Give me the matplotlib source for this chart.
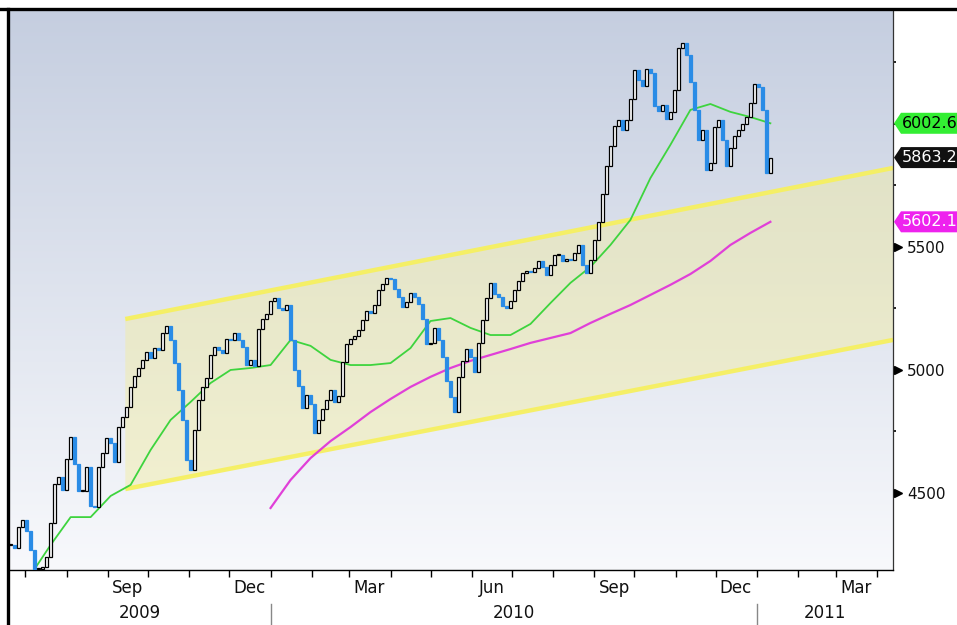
import matplotlib
matplotlib.use('Agg')
import matplotlib.pyplot as plt
import matplotlib.dates as mdates
from matplotlib.patches import Polygon
from matplotlib.lines import Line2D
import numpy as np
import pandas as pd

# ---------------- data ----------------
start_date = '2009-06-20'   # first sample, every 3 calendar days
close = [
    4289, 4276, 4362, 4390, 4346, 4268, 4191, 4191, 4199, 4240,
    4378, 4537, 4565, 4512, 4638, 4728, 4618, 4508, 4508, 4606,
    4447, 4443, 4606, 4663, 4724, 4703, 4626, 4768, 4809, 4850,
    4931, 4976, 5008, 5041, 5073, 5049, 5089, 5081, 5150, 5179,
    5122, 5028, 4919, 4797, 4634, 4593, 4756, 4878, 4931, 4967,
    5061, 5093, 5081, 5069, 5126, 5122, 5150, 5122, 5093, 5020,
    5041, 5016, 5167, 5207, 5228, 5280, 5293, 5252, 5244, 5264,
    5122, 5000, 4935, 4846, 4898, 4862, 4744, 4797, 4841, 4878,
    4919, 4870, 4894, 5033, 5106, 5126, 5138, 5163, 5203, 5240,
    5232, 5264, 5325, 5350, 5374, 5370, 5329, 5297, 5256, 5276,
    5313, 5297, 5268, 5207, 5106, 5110, 5171, 5122, 5053, 4955,
    4890, 4829, 4972, 5037, 5085, 5053, 4992, 5110, 5203, 5293,
    5354, 5309, 5297, 5260, 5252, 5280, 5325, 5362, 5394, 5402,
    5398, 5415, 5443, 5419, 5386, 5427, 5467, 5467, 5443, 5451,
    5447, 5476, 5508, 5427, 5394, 5447, 5528, 5602, 5715, 5829,
    5911, 5992, 6016, 5976, 6016, 6102, 6220, 6179, 6154, 6224,
    6207, 6073, 6053, 6077, 6020, 6049, 6138, 6309, 6329, 6280,
    6171, 6057, 5935, 5976, 5813, 5841, 5988, 6016, 5935, 5829,
    5902, 5951, 5976, 6000, 6028, 6085, 6163, 6150, 6057, 5801,
    5863.2,
]
# 50-day average (green), sampled every 15 days from the 6th sample
ma50 = [
    4167, 4289, 4402, 4402, 4488, 4533, 4675, 4797, 4870, 4947,
    5000, 5008, 5020, 5122, 5098, 5041, 5020, 5020, 5028, 5089,
    5199, 5211, 5171, 5142, 5142, 5187, 5272, 5354, 5419, 5508,
    5610, 5780, 5915, 6057, 6081, 6049, 6028, 6002.6,
]
# 200-day average (magenta), sampled every 15 days from the 66th sample
ma200 = [
    4439, 4553, 4642, 4711, 4768, 4829, 4882, 4931, 4972, 5008,
    5037, 5061, 5085, 5110, 5130, 5150, 5191, 5228, 5264, 5305,
    5346, 5390, 5443, 5508, 5557, 5602.1,
]
# trend channel
channel_dates = ['2009-09-14', '2011-04-13']
channel_upper = [5207, 5821]
channel_lower = [4516, 5122]

y_ticks = [4500, 5000, 5500]
y_minor = [4750, 5250, 5750, 6000, 6250]
month_labels = ['Sep', 'Dec', 'Mar', 'Jun', 'Sep', 'Dec', 'Mar']
month_label_dates = ['2009-09-16', '2009-12-16', '2010-03-16', '2010-06-16',
                     '2010-09-16', '2010-12-16', '2011-03-16']
years = ['2009', '2010', '2011']
tag_values = [6002.6, 5863.2, 5602.1]
tag_labels = ['6002.6', '5863.2', '5602.1']

# ---------------- figure ----------------
W, H = 957, 625
fig = plt.figure(figsize=(W / 100, H / 100), dpi=100)
fig.patch.set_facecolor('white')
L, R, B, T = 10, 893, 55, 615  # axes box in pixels (from bottom)
ax = fig.add_axes([L / W, B / H, (R - L) / W, (T - B) / H])

dates = pd.date_range(start_date, periods=len(close), freq='3D')
xnum = mdates.date2num(dates)
x0 = mdates.date2num(pd.Timestamp(start_date))
x1 = mdates.date2num(pd.Timestamp('2011-04-13'))
ax.set_xlim(x0 - 0.5, x1)
ax.set_ylim(4187, 6463)

# background gradient
grad = np.linspace(0, 1, 256).reshape(-1, 1)
top_c = np.array([0.773, 0.808, 0.878])
bot_c = np.array([0.972, 0.976, 0.988])
img = top_c[None, None, :] * (1 - grad[..., None]) + bot_c[None, None, :] * grad[..., None]
ax.imshow(img, extent=[0, 1, 0, 1], transform=ax.transAxes, aspect='auto', zorder=0)

# channel
cx = mdates.date2num(pd.to_datetime(channel_dates))
poly = Polygon([[cx[0], channel_upper[0]], [cx[1], channel_upper[1]],
                [cx[1], channel_lower[1]], [cx[0], channel_lower[0]]],
               closed=True, facecolor='#f3eda0', alpha=0.45, edgecolor='none', zorder=1)
ax.add_patch(poly)
ax.plot(cx, channel_upper, color='#f6f060', lw=3.2, alpha=0.95, zorder=2, solid_capstyle='butt')
ax.plot(cx, channel_lower, color='#f6f060', lw=3.2, alpha=0.95, zorder=2, solid_capstyle='butt')

# moving averages
ax.plot(xnum[5::5], ma50, color='#3ed43e', lw=1.3, zorder=4)
ax.plot(xnum[65::5], ma200, color='#e040d8', lw=1.6, zorder=4)

# candles: open = previous close
opens = [close[0]] + close[:-1]
for xi, o, c in zip(xnum, opens, close):
    lo, hi = min(o, c), max(o, c)
    h = max(hi - lo, 4)
    if c >= o:
        ax.bar(xi, h, bottom=lo, width=2.2, facecolor='white', edgecolor='black',
               linewidth=0.9, zorder=5)
    else:
        ax.bar(xi, h, bottom=lo, width=2.2, facecolor='#2a8ce6', edgecolor='#2a8ce6',
               linewidth=0.9, zorder=5)

# axes styling
for s in ['top', 'left']:
    ax.spines[s].set_visible(False)
ax.spines['right'].set_color('#333333')
ax.spines['right'].set_linewidth(0.9)
ax.spines['bottom'].set_color('black')
ax.spines['bottom'].set_linewidth(1.0)

# y axis on right
ax.yaxis.tick_right()
ax.set_yticks(y_ticks)
ax.set_yticklabels([str(v) for v in y_ticks], fontsize=11, color='#111111')
ax.tick_params(axis='y', which='major', length=0, pad=10)
ax.set_yticks(y_minor, minor=True)
ax.tick_params(axis='y', which='minor', length=2, width=1.2, color='black', direction='out')
ytr = ax.get_yaxis_transform()
for v in y_ticks:
    ax.plot([1.006], [v], marker='>', markersize=6, color='black', transform=ytr, clip_on=False, zorder=10)

# x axis month ticks
month_starts = pd.date_range('2009-07-01', '2011-04-01', freq='MS')
ax.set_xticks(mdates.date2num(month_starts))
ax.set_xticklabels([])
ax.tick_params(axis='x', which='major', length=5, width=1, color='black', direction='out')
xtr = ax.get_xaxis_transform()
for lab, d in zip(month_labels, month_label_dates):
    ax.text(mdates.date2num(pd.Timestamp(d)), -0.032, lab, transform=xtr, ha='center', va='center',
            fontsize=12, color='#111111', clip_on=False)

# year labels and separators
xl = ax.get_xlim()
y_bounds = [xl[0], mdates.date2num(pd.Timestamp('2010-01-01')),
            mdates.date2num(pd.Timestamp('2011-01-01')), xl[1]]
for i, yr in enumerate(years):
    ax.text((y_bounds[i] + y_bounds[i + 1]) / 2, -0.077, yr, transform=xtr, ha='center', va='center',
            fontsize=12, color='#111111', clip_on=False)
for xb in y_bounds[1:3]:
    ax.plot([xb, xb], [-0.06, -0.12], transform=xtr, color='#888888', lw=1, clip_on=False)

# value tags on the right
fig.canvas.draw()
tag_face = ['#33ee33', '#111111', '#ee22ee']
tag_text = ['black', 'white', 'white']
for v, lab, fc, tc in zip(tag_values, tag_labels, tag_face, tag_text):
    ypix = ax.transData.transform((xl[0], v))[1]
    hh = 10.5
    pts = [[R + 1, ypix], [R + 8, ypix + hh], [W + 20, ypix + hh], [W + 20, ypix - hh], [R + 8, ypix - hh]]
    fig.add_artist(Polygon(pts, closed=True, transform=None, facecolor=fc, edgecolor='none', zorder=20))
    fig.text((R + 9) / W, ypix / H, lab, ha='left', va='center', fontsize=11.5, color=tc, zorder=21)

# outer frame (thick top and left)
fig.add_artist(Line2D([0, 1], [1 - 9 / H, 1 - 9 / H], transform=fig.transFigure, color='black', lw=2.4))
fig.add_artist(Line2D([8 / W, 8 / W], [0, 1 - 9 / H], transform=fig.transFigure, color='black', lw=2.4))

fig.savefig('out.png', dpi=100, facecolor='white')
